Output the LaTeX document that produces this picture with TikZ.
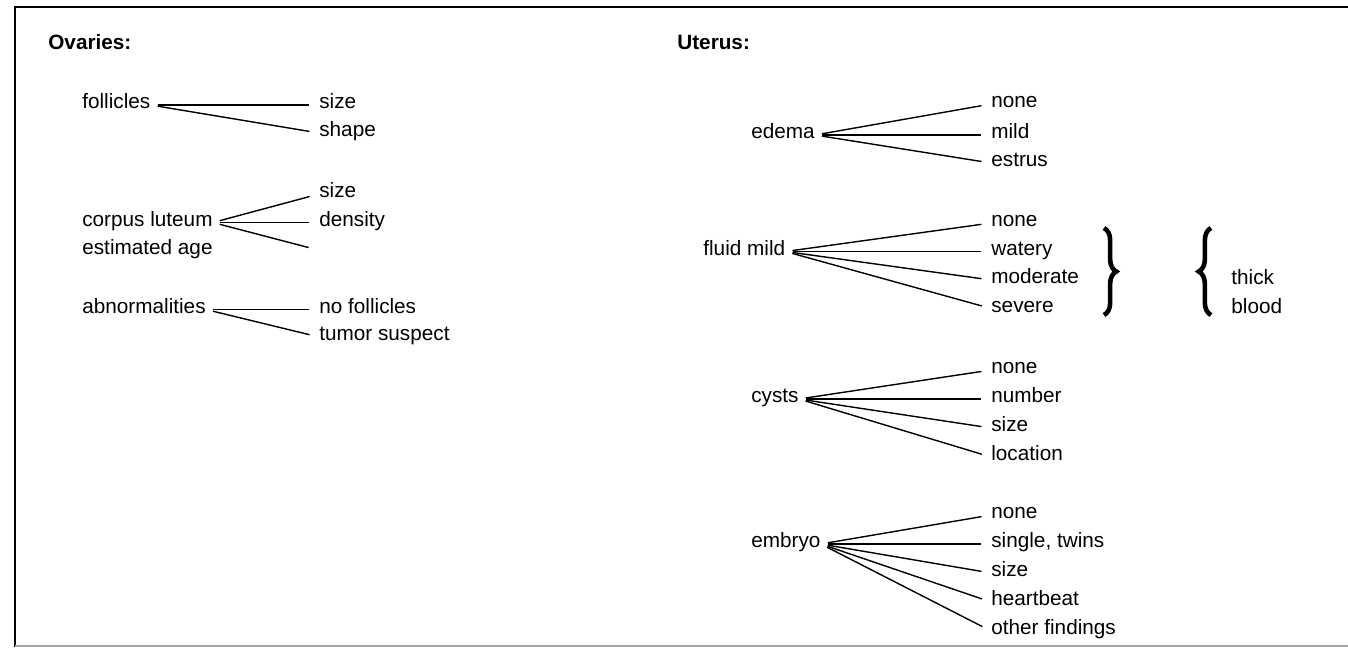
\documentclass[tikz,border=0pt]{standalone}
\usepackage{fontspec}
\setmainfont{Liberation Sans}
\usetikzlibrary{decorations.pathreplacing}

\begin{document}
\begin{tikzpicture}[x=0.02cm,y=-0.02cm,
  item/.style={anchor=west,inner sep=0pt,text height=8.5pt,text depth=4pt,font=\fontsize{11.8}{14}\selectfont},
  head/.style={item,font=\fontsize{11.8}{14}\selectfont\bfseries},
  branch/.style={line width=0.8pt,shorten <=4pt,shorten >=5.5pt},
  curly/.style={decorate,decoration={brace,amplitude=7pt},line width=2.6pt}]
\useasboundingbox (0,0) rectangle (1348,647);
\draw[line width=1.4pt] (15,647) -- (15,7) -- (1348,7);
\draw[gray!70,line width=0.6pt] (15,646) -- (1348,646);

\node[head] (ovaries) at (48,46) {Ovaries:};
\node[head] (uterus) at (677,46) {Uterus:};

\node[item] (fol) at (82,105) {follicles};
\node[item] (folsize) at (319,105) {size};
\node[item] (folshape) at (319,133) {shape};
\foreach \n in {folsize,folshape} \draw[branch] (fol.east) -- (\n.west);

\node[item] (cl) at (82,222.5) {corpus luteum};
\node[item] (age) at (82,251) {estimated age};
\node[item] (clsize) at (319,194) {size};
\node[item] (cldens) at (319,222.5) {density};
\coordinate (clage) at (318,250);
\foreach \n in {clsize,cldens,clage} \draw[branch] (cl.east) -- (\n.west);

\node[item] (abn) at (82,309.5) {abnormalities};
\node[item] (nofol) at (319,309.5) {no follicles};
\node[item] (tumor) at (319,337) {tumor suspect};
\foreach \n in {nofol,tumor} \draw[branch] (abn.east) -- (\n.west);

\node[item] (edema) at (751,135) {edema};
\node[item] (ednone) at (991,104) {none};
\node[item] (edmild) at (991,135) {mild};
\node[item] (edestrus) at (991,163) {estrus};
\foreach \n in {ednone,edmild,edestrus} \draw[branch] (edema.east) -- (\n.west);

\node[item] (fluid) at (703,251.5) {fluid mild};
\node[item] (flnone) at (991,223) {none};
\node[item] (flwatery) at (991,251.5) {watery};
\node[item] (flmod) at (991,280) {moderate};
\node[item] (flsevere) at (991,308.5) {severe};
\foreach \n in {flnone,flwatery,flmod,flsevere} \draw[branch] (fluid.east) -- (\n.west);
\draw[curly] (1104,228) -- (1104,315);
\draw[curly] (1211,315) -- (1211,228);
\node[item] (thick) at (1231,281) {thick};
\node[item] (blood) at (1231,310) {blood};

\node[item] (cysts) at (751,399) {cysts};
\node[item] (cynone) at (991,370) {none};
\node[item] (cynum) at (991,399) {number};
\node[item] (cysize) at (991,428) {size};
\node[item] (cyloc) at (991,457) {location};
\foreach \n in {cynone,cynum,cysize,cyloc} \draw[branch] (cysts.east) -- (\n.west);

\node[item] (embryo) at (751,544) {embryo};
\node[item] (emnone) at (991,515) {none};
\node[item] (emtwins) at (991,544) {single, twins};
\node[item] (emsize) at (991,573) {size};
\node[item] (embeat) at (991,602) {heartbeat};
\node[item] (emother) at (991,631) {other findings};
\foreach \n in {emnone,emtwins,emsize,embeat,emother} \draw[branch] (embryo.east) -- (\n.west);
\end{tikzpicture}
\end{document}
